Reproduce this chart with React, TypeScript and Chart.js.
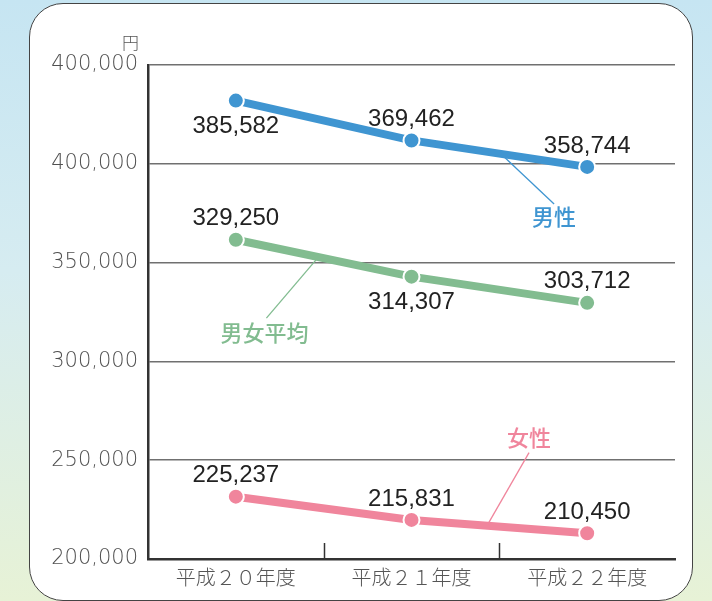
import React, { useEffect, useRef } from "react";
import { Chart, registerables } from "chart.js";

Chart.register(...registerables);

// ---- data ----
const categories = ["平成２０年度", "平成２１年度", "平成２２年度"];
const maleValues = [385582, 369462, 358744];
const averageValues = [329250, 314307, 303712];
const femaleValues = [225237, 215831, 210450];
const seriesNames = ["男性", "男女平均", "女性"];
const yTickLabels = ["200,000", "250,000", "300,000", "350,000", "400,000", "400,000"];
const yUnit = "円";

// ---- styling / placement config ----
const colors = ["#3f95d1", "#82bc90", "#f0859c"];
const valuePlacement = [
  ["below", "above", "above"],
  ["above", "below", "above"],
  ["above", "above", "above"],
];
// series label: segment start index, fraction along segment, leader end offset, text offset
const seriesLabelCfg = [
  { seg: 1, t: 0.51, lx: 53, ly: 50, tx: 53, ty: 63 },
  { seg: 0, t: 0.47, lx: -52, ly: 61, tx: -54, ty: 76 },
  { seg: 1, t: 0.43, lx: 42, ly: -73, tx: 42, ty: -88 },
];

const fmt = (v: number) => v.toLocaleString("en-US");

const decorPlugin = {
  id: "decor",
  afterDraw(chart: any) {
    const ctx = chart.ctx as CanvasRenderingContext2D;
    const area = chart.chartArea;
    const xs = chart.scales.x;
    ctx.save();
    // inner category separators on x axis
    ctx.strokeStyle = "#333";
    ctx.lineWidth = 1.5;
    for (let i = 0; i < categories.length - 1; i++) {
      const px = (xs.getPixelForValue(i) + xs.getPixelForValue(i + 1)) / 2;
      ctx.beginPath();
      ctx.moveTo(Math.round(px) + 0.5, area.bottom);
      ctx.lineTo(Math.round(px) + 0.5, area.bottom - 16);
      ctx.stroke();
    }
    // unit
    ctx.fillStyle = "#555";
    ctx.font = "300 17px 'Noto Sans CJK JP', sans-serif";
    ctx.textAlign = "right";
    ctx.textBaseline = "middle";
    ctx.fillText(yUnit, area.left - 9, area.top - 22);

    // value labels
    ctx.font = "24px 'Liberation Sans', Arial, sans-serif";
    ctx.fillStyle = "#222";
    ctx.textAlign = "center";
    ctx.textBaseline = "alphabetic";
    chart.data.datasets.forEach((ds: any, di: number) => {
      const meta = chart.getDatasetMeta(di);
      meta.data.forEach((pt: any, j: number) => {
        const off = valuePlacement[di][j] === "below" ? 24 : -23;
        ctx.fillText(fmt(ds.data[j]), pt.x, pt.y + off + 0.36 * 24);
      });
    });

    // series labels with leader lines
    seriesLabelCfg.forEach((c, di) => {
      const meta = chart.getDatasetMeta(di);
      const a = meta.data[c.seg];
      const b = meta.data[c.seg + 1];
      const ax = a.x + (b.x - a.x) * c.t;
      const ay = a.y + (b.y - a.y) * c.t;
      ctx.strokeStyle = colors[di];
      ctx.lineWidth = 1.3;
      ctx.beginPath();
      ctx.moveTo(ax, ay);
      ctx.lineTo(ax + c.lx, ay + c.ly);
      ctx.stroke();
      ctx.fillStyle = colors[di];
      ctx.font = "500 22px 'Noto Sans CJK JP', sans-serif";
      ctx.textAlign = "center";
      ctx.textBaseline = "middle";
      ctx.fillText(seriesNames[di], ax + c.tx, ay + c.ty);
    });
    ctx.restore();
  },
};

export default function App() {
  const ref = useRef<HTMLCanvasElement | null>(null);
  useEffect(() => {
    if (!ref.current) return;
    const seriesValues = [maleValues, averageValues, femaleValues];
    const chart = new Chart(ref.current, {
      type: "line",
      data: {
        labels: categories,
        datasets: seriesValues.map((vals, i) => ({
          label: seriesNames[i],
          data: vals,
          borderColor: colors[i],
          backgroundColor: colors[i],
          borderWidth: 8,
          pointRadius: 8,
          pointBorderWidth: 2,
          pointBorderColor: "#ffffff",
          pointBackgroundColor: colors[i],
          tension: 0,
          clip: false as any,
        })),
      },
      options: {
        responsive: false,
        animation: false,
        devicePixelRatio: 1,
        layout: { padding: { top: 65, right: 37, left: 0, bottom: 0 } },
        plugins: {
          legend: { display: false },
          tooltip: { enabled: false },
          title: { display: false },
        },
        scales: {
          x: {
            offset: true,
            grid: { display: false, drawTicks: false },
            border: { display: true, color: "#333", width: 2.5 },
            ticks: {
              color: "#555",
              padding: 6,
              font: { family: "'Noto Sans CJK JP', sans-serif", size: 20, weight: "300" as any },
            },
            afterFit: (s: any) => {
              s.height = 42;
            },
          },
          y: {
            min: 200000,
            max: 400000,
            grid: { color: "#707070", lineWidth: 1.5, drawTicks: false },
            border: { display: true, color: "#333", width: 2.5 },
            ticks: {
              stepSize: 40000,
              color: "#505050",
              padding: 10,
              font: { family: "'DejaVu Sans', sans-serif", size: 21, weight: "200" as any },
              callback: (_v: any, idx: number) => yTickLabels[idx],
            },
            afterFit: (s: any) => {
              s.width = 148;
            },
          },
        },
      },
      plugins: [decorPlugin],
    });
    return () => chart.destroy();
  }, []);

  return (
    <div style={{ position: "absolute", left: 0, top: 0, width: 712, height: 601, overflow: "hidden",
      background: "linear-gradient(to bottom, #c6e5f2 0%, #d6ecf1 45%, #e7f2d6 100%)" }}>
      <div style={{ position: "absolute", left: 29, top: 3, width: 664, height: 598, boxSizing: "border-box",
        border: "1.5px solid #444", borderRadius: 34, background: "#ffffff" }} />
      <canvas ref={ref} width={712} height={601} style={{ position: "absolute", left: 0, top: 0 }} />
    </div>
  );
}
